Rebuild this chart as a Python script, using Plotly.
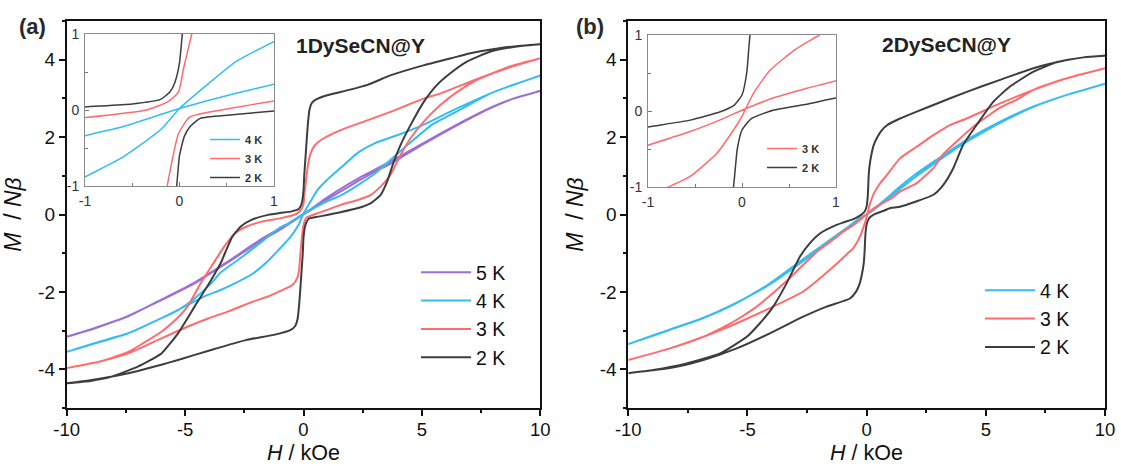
import plotly.graph_objects as go

# ---------------- data: M (N beta) vs H (kOe) hysteresis loops ----------------
# Panel (a): 1DySeCN@Y
A_5K_DOWN_H = [10, 8.8, 7.9, 6.5, 5.1, 3.7, 2.3, 1.5, 0.9, 0.4, 0, -0.4, -0.9, -1.8, -2.6,
               -3.2, -4.0, -4.6, -5.3, -6.0, -7.4, -8.8, -10]
A_5K_DOWN_M = [3.19, 2.98, 2.76, 2.33, 1.86, 1.38, 0.93, 0.64, 0.40, 0.18, 0.0, -0.16, -0.36,
               -0.68, -1.0, -1.24, -1.55, -1.78, -2.0, -2.21, -2.62, -2.94, -3.16]
A_5K_UP_H = [-10, -8.8, -7.4, -6.0, -4.6, -3.2, -1.8, -0.9, -0.4, 0, 0.4, 0.9, 1.5, 2.3, 3.0,
             3.7, 5.1, 6.5, 7.9, 8.8, 10]
A_5K_UP_M = [-3.16, -2.93, -2.63, -2.20, -1.76, -1.22, -0.64, -0.33, -0.14, 0.0, 0.15, 0.35,
             0.57, 0.86, 1.10, 1.32, 1.83, 2.31, 2.75, 2.98, 3.19]

A_4K_DOWN_H = [10, 8.9, 7.9, 6.5, 5.4, 4.4, 3.7, 3.1, 2.3, 1.6, 1.0, 0.6, 0, -0.6, -1.0, -1.8,
               -2.6, -3.5, -3.9, -4.6, -5.3, -6.0, -7.4, -8.8, -10]
A_4K_DOWN_M = [3.59, 3.36, 3.13, 2.67, 2.31, 1.80, 1.43, 1.10, 0.76, 0.50, 0.34, 0.22, 0.02,
               -0.22, -0.34, -0.72, -1.10, -1.50, -1.78, -2.17, -2.47, -2.68, -3.07, -3.33, -3.55]
A_4K_UP_H = [-10, -8.8, -7.4, -6.0, -4.9, -4.2, -3.5, -2.9, -2.2, -1.5, -1.0, -0.6, -0.2, 0,
             0.3, 0.6, 1.0, 1.6, 2.3, 3.0, 4.1, 5.1, 6.2, 7.9, 8.9, 10]
A_4K_UP_M = [-3.55, -3.32, -3.07, -2.68, -2.34, -2.12, -1.95, -1.78, -1.55, -1.20, -0.88, -0.62,
             -0.26, 0.02, 0.34, 0.64, 0.90, 1.22, 1.60, 1.84, 2.08, 2.33, 2.66, 3.13, 3.36, 3.59]

A_3K_DOWN_H = [10, 8.6, 7.2, 5.8, 5.1, 4.4, 3.7, 2.55, 1.57, 0.86, 0.6, 0.45, 0.3, 0.2, 0.13,
               0.04, -0.01, -0.12, -0.35, -1.0, -1.8, -2.4, -2.9, -3.35, -3.9, -4.35, -4.9,
               -5.4, -6.0, -6.7, -7.4, -8.6, -10]
A_3K_DOWN_M = [4.04, 3.78, 3.47, 3.13, 3.0, 2.83, 2.66, 2.40, 2.18, 1.97, 1.86, 1.76, 1.58,
               1.32, 1.0, 0.53, 0.24, 0.11, 0.0, -0.10, -0.19, -0.31, -0.49, -0.83, -1.35,
               -1.78, -2.38, -2.72, -3.03, -3.30, -3.55, -3.80, -3.97]
A_3K_UP_H = [-10, -8.6, -7.4, -6.0, -4.9, -4.0, -3.2, -2.0, -1.5, -1.0, -0.54, -0.4, -0.25,
             -0.18, -0.13, -0.01, 0.11, 0.53, 1.0, 1.57, 2.27, 2.83, 3.25, 3.67, 4.1, 4.52,
             5.08, 5.78, 6.49, 7.33, 8.6, 10]
A_3K_UP_M = [-3.97, -3.80, -3.59, -3.20, -2.90, -2.68, -2.51, -2.22, -2.12, -1.98, -1.85,
             -1.78, -1.62, -1.40, -1.0, -0.31, -0.09, 0.02, 0.12, 0.25, 0.37, 0.50, 0.72,
             1.02, 1.54, 1.97, 2.40, 2.83, 3.17, 3.48, 3.80, 4.04]

A_2K_DOWN_H = [10, 9.0, 8.2, 7.0, 6.5, 5.1, 3.7, 2.7, 1.6, 1.0, 0.5, 0.35, 0.25, 0.18, 0.12,
               0.07, 0.03, 0.0, -0.05, -0.1, -0.2, -0.5, -1.0, -1.5, -2.2, -2.65, -3.0, -3.2,
               -3.5, -3.9, -4.6, -5.3, -6.0, -7.0, -8.1, -9.0, -10]
A_2K_DOWN_M = [4.40, 4.35, 4.29, 4.16, 4.08, 3.86, 3.60, 3.35, 3.17, 3.08, 2.96, 2.88, 2.70,
               2.30, 1.80, 1.35, 1.0, 0.62, 0.36, 0.24, 0.14, 0.08, 0.04, -0.01, -0.14, -0.31,
               -0.57, -0.83, -1.26, -1.69, -2.38, -3.07, -3.59, -3.93, -4.19, -4.30, -4.36]
A_2K_UP_H = [-10, -9.0, -7.4, -6.0, -5.3, -3.9, -2.4, -1.25, -0.54, -0.35, -0.25, -0.18,
             -0.12, -0.07, -0.03, 0.0, 0.05, 0.11, 0.22, 0.53, 1.0, 1.57, 2.27, 2.83, 3.25,
             3.53, 3.81, 4.1, 4.52, 5.08, 5.64, 6.2, 6.9, 7.9, 9.0, 10]
A_2K_UP_M = [-4.36, -4.28, -4.10, -3.88, -3.76, -3.50, -3.24, -3.11, -2.98, -2.88, -2.70,
             -2.30, -1.80, -1.35, -1.0, -0.60, -0.35, -0.22, -0.11, -0.066, -0.013, 0.06,
             0.16, 0.29, 0.50, 0.85, 1.36, 1.80, 2.31, 2.91, 3.35, 3.65, 3.95, 4.21, 4.34, 4.40]

# Panel (b): 2DySeCN@Y
B_4K_DOWN_H = [10, 8.4, 7.0, 5.6, 4.2, 2.8, 2.0, 1.4, 0.8, 0.3, 0, -0.3, -0.8, -1.3, -2.0,
               -2.7, -4.1, -5.5, -6.9, -8.3, -10]
B_4K_DOWN_M = [3.38, 3.09, 2.79, 2.40, 1.93, 1.36, 1.02, 0.72, 0.40, 0.14, 0.0, -0.12, -0.34,
               -0.58, -0.90, -1.22, -1.82, -2.29, -2.68, -2.98, -3.35]
B_4K_UP_H = [-10, -8.3, -6.9, -5.5, -4.1, -2.7, -2.0, -1.3, -0.8, -0.3, 0, 0.3, 0.8, 1.4, 2.0,
             2.8, 3.5, 4.2, 5.6, 7.0, 8.4, 10]
B_4K_UP_M = [-3.35, -2.99, -2.69, -2.30, -1.80, -1.17, -0.86, -0.55, -0.33, -0.10, 0.0, 0.12,
             0.36, 0.66, 0.95, 1.30, 1.60, 1.88, 2.37, 2.78, 3.09, 3.38]

B_3K_DOWN_H = [10, 8.4, 7.0, 6.3, 5.6, 4.6, 3.8, 3.2, 2.8, 2.1, 1.4, 1.0, 0.69, 0.33, 0, -0.2,
               -0.55, -1.0, -1.3, -2.0, -2.66, -3.36, -4.06, -4.7, -5.45, -6.3, -6.85, -8.25, -10]
B_3K_DOWN_M = [3.78, 3.52, 3.22, 2.97, 2.76, 2.33, 1.90, 1.55, 1.20, 0.81, 0.59, 0.40, 0.30,
               0.17, 0.01, -0.10, -0.27, -0.45, -0.60, -0.92, -1.30, -1.72, -2.10, -2.42, -2.72,
               -3.0, -3.16, -3.46, -3.76]
B_3K_UP_H = [-10, -8.25, -6.85, -5.45, -4.06, -2.66, -1.54, -0.82, -0.55, -0.27, -0.09, 0,
             0.12, 0.3, 0.58, 0.81, 1.4, 2.1, 2.8, 3.5, 4.2, 5.6, 7.0, 8.4, 10]
B_3K_UP_M = [-3.76, -3.46, -3.16, -2.81, -2.42, -1.99, -1.43, -1.02, -0.86, -0.56, -0.25, -0.07,
             0.23, 0.54, 0.82, 0.99, 1.45, 1.75, 2.05, 2.31, 2.48, 2.87, 3.22, 3.52, 3.78]

B_2K_DOWN_H = [10, 9.1, 8.4, 7.0, 5.6, 4.2, 2.8, 2.1, 1.4, 0.84, 0.6, 0.45, 0.3, 0.2, 0.12,
               0.085, 0.05, 0.0, -0.09, -0.23, -0.55, -1.0, -1.26, -1.96, -2.38, -2.8, -3.36,
               -3.92, -4.48, -5.03, -6.15, -7.55, -8.95, -10]
B_2K_DOWN_M = [4.10, 4.06, 3.99, 3.78, 3.48, 3.17, 2.83, 2.66, 2.48, 2.30, 2.15, 2.0, 1.80,
               1.55, 1.25, 1.0, 0.50, 0.21, 0.07, -0.01, -0.12, -0.21, -0.27, -0.49, -0.74,
               -1.09, -1.78, -2.38, -2.81, -3.16, -3.59, -3.85, -4.02, -4.10]
B_2K_UP_H = [-10, -8.25, -6.85, -5.45, -4.06, -2.66, -1.68, -0.7, -0.45, -0.3, -0.2, -0.12,
             -0.09, -0.05, 0.0, 0.1, 0.33, 0.69, 1.0, 1.4, 2.8, 3.21, 3.63, 4.05, 4.61, 5.31,
             6.0, 7.0, 8.0, 9.1, 10]
B_2K_UP_M = [-4.10, -3.97, -3.76, -3.46, -3.07, -2.64, -2.38, -2.17, -2.0, -1.80, -1.55, -1.25,
             -1.0, -0.50, -0.25, -0.10, 0.01, 0.09, 0.17, 0.20, 0.51, 0.76, 1.19, 1.80, 2.31,
             2.91, 3.30, 3.69, 3.94, 4.06, 4.10]

# axis ticks
X_TICKS = [-10, -5, 0, 5, 10]
X_TICK_TEXT = ["-10", "-5", "0", "5", "10"]
X_MINOR = [-7.5, -2.5, 2.5, 7.5]
Y_TICKS = [-4, -2, 0, 2, 4]
Y_TICK_TEXT = ["-4", "-2", "0", "2", "4"]
Y_MINOR = [-5, -3, -1, 1, 3, 5]
INSET_TICKS = [-1, 0, 1]
INSET_TICK_TEXT = ["-1", "0", "1"]
INSET_MINOR = [-0.5, 0.5]

COLORS = {"5 K": "#9B6FD3", "4 K": "#35BDF2", "3 K": "#FF6B6E", "2 K": "#3D3D3D"}
FONT = "Arial, 'Liberation Sans', sans-serif"
W, HGT = 1121, 466


def fx(p):
    return p / W


def fy(p):
    return 1 - p / HGT


fig = go.Figure()


def add_loop(h_down, m_down, h_up, m_up, label, xa, ya, legend, width):
    fig.add_trace(go.Scatter(
        x=h_down + h_up, y=m_down + m_up, mode="lines", name=label,
        line=dict(color=COLORS[label], width=width, shape="spline", smoothing=0.5),
        xaxis=xa, yaxis=ya, legend=legend, hoverinfo="skip"))


# main panel (a)
add_loop(A_5K_DOWN_H, A_5K_DOWN_M, A_5K_UP_H, A_5K_UP_M, "5 K", "x", "y", "legend", 2)
add_loop(A_4K_DOWN_H, A_4K_DOWN_M, A_4K_UP_H, A_4K_UP_M, "4 K", "x", "y", "legend", 2)
add_loop(A_3K_DOWN_H, A_3K_DOWN_M, A_3K_UP_H, A_3K_UP_M, "3 K", "x", "y", "legend", 2)
add_loop(A_2K_DOWN_H, A_2K_DOWN_M, A_2K_UP_H, A_2K_UP_M, "2 K", "x", "y", "legend", 2)
# main panel (b)
add_loop(B_4K_DOWN_H, B_4K_DOWN_M, B_4K_UP_H, B_4K_UP_M, "4 K", "x2", "y2", "legend2", 2)
add_loop(B_3K_DOWN_H, B_3K_DOWN_M, B_3K_UP_H, B_3K_UP_M, "3 K", "x2", "y2", "legend2", 2)
add_loop(B_2K_DOWN_H, B_2K_DOWN_M, B_2K_UP_H, B_2K_UP_M, "2 K", "x2", "y2", "legend2", 2)
# inset of (a): low-field region
add_loop(A_4K_DOWN_H, A_4K_DOWN_M, A_4K_UP_H, A_4K_UP_M, "4 K", "x3", "y3", "legend3", 1.5)
add_loop(A_3K_DOWN_H, A_3K_DOWN_M, A_3K_UP_H, A_3K_UP_M, "3 K", "x3", "y3", "legend3", 1.5)
add_loop(A_2K_DOWN_H, A_2K_DOWN_M, A_2K_UP_H, A_2K_UP_M, "2 K", "x3", "y3", "legend3", 1.5)
# inset of (b)
add_loop(B_3K_DOWN_H, B_3K_DOWN_M, B_3K_UP_H, B_3K_UP_M, "3 K", "x4", "y4", "legend4", 1.5)
add_loop(B_2K_DOWN_H, B_2K_DOWN_M, B_2K_UP_H, B_2K_UP_M, "2 K", "x4", "y4", "legend4", 1.5)


def main_x(domain, anchor):
    return dict(domain=domain, anchor=anchor, range=[-10, 10], tickmode="array",
                tickvals=X_TICKS, ticktext=X_TICK_TEXT, ticks="outside", ticklen=6,
                tickwidth=1.6, tickcolor="#111", showline=True, linecolor="#111",
                linewidth=1.8, mirror=True, showgrid=False, zeroline=False, automargin=False,
                minor=dict(tickmode="array", tickvals=X_MINOR, ticks="outside", ticklen=3,
                           tickwidth=1.6, tickcolor="#111", showgrid=False),
                tickfont=dict(family=FONT, size=18.5, color="#111"), ticklabelstandoff=-2)


def main_y(domain, anchor):
    return dict(domain=domain, anchor=anchor, range=[-5, 5], tickmode="array",
                tickvals=Y_TICKS, ticktext=Y_TICK_TEXT, ticks="outside", ticklen=6,
                tickwidth=1.6, tickcolor="#111", showline=True, linecolor="#111",
                linewidth=1.8, mirror=True, showgrid=False, zeroline=False, automargin=False,
                minor=dict(tickmode="array", tickvals=Y_MINOR, ticks="outside", ticklen=3,
                           tickwidth=1.6, tickcolor="#111", showgrid=False),
                tickfont=dict(family=FONT, size=19, color="#111"),
                title=dict(text="<i>M</i>  / <i>Nβ</i>",
                           font=dict(family=FONT, size=23, color="#111"), standoff=10))


def inset_axis(domain, anchor):
    return dict(domain=domain, anchor=anchor, range=[-1, 1], tickmode="array",
                tickvals=INSET_TICKS, ticktext=INSET_TICK_TEXT, ticks="inside", ticklen=4,
                tickwidth=1, tickcolor="#777", showline=True, linecolor="#8a8a8a",
                linewidth=1, mirror=True, showgrid=False, zeroline=False, automargin=False,
                minor=dict(tickmode="array", tickvals=INSET_MINOR, ticks="inside", ticklen=3,
                           tickwidth=1, tickcolor="#777", showgrid=False),
                tickfont=dict(family=FONT, size=14, color="#333"), ticklabelstandoff=2)


main_legend = dict(bgcolor="rgba(0,0,0,0)", font=dict(family=FONT, size=19.5, color="#111"),
                   xanchor="left", yanchor="top", traceorder="normal", itemclick=False,
                   itemwidth=50)
inset_legend = dict(bgcolor="rgba(0,0,0,0)",
                    font=dict(family=FONT, size=11, color="#333", weight="bold"),
                    xanchor="left", yanchor="top", traceorder="normal", itemclick=False,
                    itemwidth=30)


def label(text, x, y, size, color, yanchor="middle"):
    return dict(text=text, x=fx(x), y=fy(y), xref="paper", yref="paper", showarrow=False,
                xanchor="center", yanchor=yanchor, borderpad=0,
                font=dict(family=FONT, size=size, color=color))


fig.update_layout(
    width=W, height=HGT, margin=dict(l=0, r=0, t=0, b=0, autoexpand=False),
    paper_bgcolor="white", plot_bgcolor="white", font=dict(family=FONT, color="#111"),
    xaxis=main_x([fx(66.7), fx(540.3)], "y"),
    yaxis=main_y([fy(408), fy(21)], "x"),
    xaxis2=main_x([fx(628.3), fx(1105)], "y2"),
    yaxis2=main_y([fy(408), fy(21)], "x2"),
    xaxis3=inset_axis([fx(85), fx(274)], "y3"),
    yaxis3=inset_axis([fy(186), fy(34)], "x3"),
    xaxis4=inset_axis([fx(648), fx(836)], "y4"),
    yaxis4=inset_axis([fy(187), fy(35)], "x4"),
    legend=dict(main_legend, x=fx(416), y=fy(253)),
    legend2=dict(main_legend, x=fx(980), y=fy(271)),
    legend3=dict(inset_legend, x=fx(205), y=fy(125)),
    legend4=dict(inset_legend, x=fx(762), y=fy(134)),
    annotations=[
        label("<b>(a)</b>", 32, 27, 22, "#2a2a2a"),
        label("<b>(b)</b>", 590, 27, 22, "#2a2a2a"),
        label("<b>1DySeCN@Y</b>", 360, 45.5, 21, "#222"),
        label("<b>2DySeCN@Y</b>", 946, 44, 21, "#222"),
        label("<i>H</i> / kOe", 303.5, 465.5, 21.5, "#111", yanchor="bottom"),
        label("<i>H</i> / kOe", 866.7, 465.5, 21.5, "#111", yanchor="bottom"),
    ],
)

fig.write_html("out.html")
